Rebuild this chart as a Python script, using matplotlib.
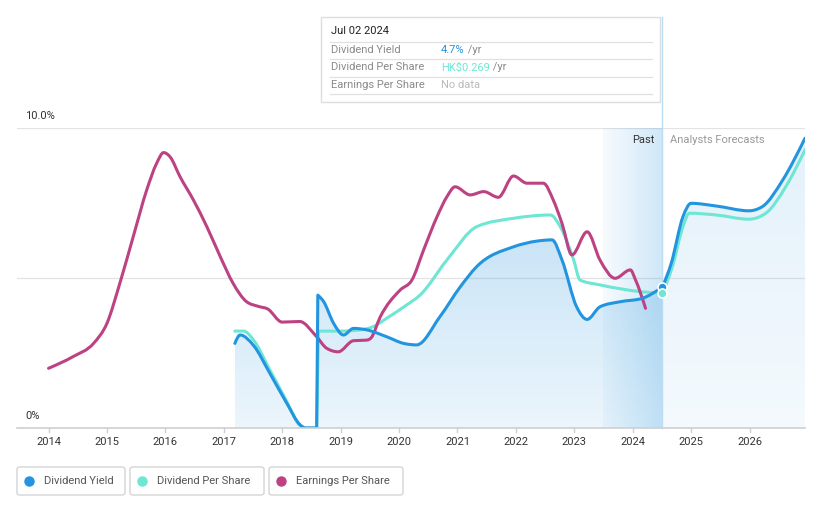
import numpy as np
import matplotlib
matplotlib.use("Agg")
import matplotlib.pyplot as plt
from matplotlib.path import Path
from matplotlib.patches import PathPatch, Rectangle, FancyBboxPatch
from matplotlib.lines import Line2D

plt.rcParams['font.family'] = ['Roboto', 'DejaVu Sans']

# ---------------- data ----------------
years = [2014, 2015, 2016, 2017, 2018, 2019, 2020, 2021, 2022, 2023, 2024, 2025, 2026]

# Dividend Yield (past, two pieces around the 2018 gap) and forecast
dy_past1_x = [2017.19, 2017.28, 2017.51, 2017.79, 2018.08, 2018.31, 2018.40, 2018.59]
dy_past1_y = [2.82, 3.10, 2.75, 1.82, 0.82, 0.10, 0.0, 0.0]
dy_past2_x = [2018.61, 2018.71, 2018.88, 2019.05, 2019.22, 2019.45, 2019.79, 2020.08,
              2020.30, 2020.70, 2021.05, 2021.33, 2021.96, 2022.36, 2022.62, 2022.79,
              2023.04, 2023.22, 2023.44, 2023.79, 2024.16, 2024.51]
dy_past2_y = [4.43, 4.21, 3.49, 3.10, 3.32, 3.27, 3.04, 2.82,
              2.77, 3.71, 4.71, 5.38, 6.04, 6.23, 6.27, 5.60,
              4.04, 3.62, 4.04, 4.21, 4.32, 4.70]
dy_fc_x = [2024.51, 2024.66, 2024.86, 2025.00, 2025.43, 2025.99, 2026.22, 2026.57, 2026.95]
dy_fc_y = [4.70, 5.49, 7.04, 7.49, 7.40, 7.24, 7.38, 8.27, 9.66]

# Dividend Per Share
dps_past1_x = [2017.19, 2017.34, 2017.51, 2017.79, 2018.08, 2018.28, 2018.40, 2018.59]
dps_past1_y = [3.23, 3.23, 2.93, 1.93, 0.88, 0.13, 0.0, 0.0]
dps_past2_x = [2018.62, 2019.00, 2019.33, 2019.56, 2019.79, 2020.13, 2020.36, 2020.82,
               2021.33, 2021.96, 2022.59, 2022.76, 2022.99, 2023.10, 2023.44, 2024.16, 2024.51]
dps_past2_y = [3.23, 3.23, 3.27, 3.38, 3.66, 4.10, 4.43, 5.60,
               6.71, 6.99, 7.10, 6.71, 5.60, 4.93, 4.77, 4.54, 4.49]
dps_fc_x = [2024.51, 2024.68, 2024.86, 2024.97, 2025.43, 2025.99, 2026.28, 2026.62, 2026.95]
dps_fc_y = [4.49, 5.38, 6.71, 7.16, 7.10, 6.96, 7.16, 8.04, 9.27]

# Earnings Per Share
eps_x = [2014.00, 2014.42, 2014.77, 2015.00, 2015.22, 2015.45, 2015.68, 2015.85, 2015.97,
         2016.08, 2016.25, 2016.48, 2016.71, 2016.94, 2017.16, 2017.39, 2017.60, 2017.75,
         2018.00, 2018.30, 2018.59, 2018.76, 2018.96, 2019.22, 2019.45, 2019.52,
         2019.68, 2020.02, 2020.22, 2020.42, 2020.65, 2020.82, 2020.96, 2021.22, 2021.45,
         2021.70, 2021.96, 2022.19, 2022.47, 2022.64, 2022.79, 2022.96, 2023.22, 2023.44,
         2023.70, 2023.96, 2024.05, 2024.22]
eps_y = [1.99, 2.38, 2.82, 3.49, 4.82, 6.38, 7.93, 8.82, 9.18,
         9.04, 8.38, 7.60, 6.71, 5.71, 4.82, 4.21, 4.05, 3.97,
         3.53, 3.55, 3.04, 2.66, 2.54, 2.91, 2.93, 3.00,
         3.71, 4.60, 4.93, 5.93, 7.04, 7.71, 8.04, 7.77, 7.88,
         7.69, 8.40, 8.16, 8.16, 7.60, 6.82, 5.77, 6.54, 5.60,
         4.99, 5.27, 4.93, 3.99]

past_start, past_end = 2023.49, 2024.51
legend_labels = ["Dividend Yield", "Dividend Per Share", "Earnings Per Share"]

BLUE = "#2394df"
TEAL = "#6ee6d4"
MAG = "#bd4283"

# ---------------- helpers ----------------
def mono_slopes(x, y):
    """Tangents like a monotone-x curve (Fritsch-Carlson / d3 style)."""
    n = len(x)
    h = np.diff(x)
    s = np.diff(y) / h
    m = np.zeros(n)
    for i in range(1, n - 1):
        s0, s1 = s[i - 1], s[i]
        p = (s0 * h[i] + s1 * h[i - 1]) / (h[i - 1] + h[i])
        m[i] = (np.sign(s0) + np.sign(s1)) * min(abs(s0), abs(s1), 0.5 * abs(p))
    if n > 2:
        m[0] = (3 * s[0] - m[1]) / 2
        m[-1] = (3 * s[-1] - m[-2]) / 2
    else:
        m[0] = m[-1] = s[0]
    return m

def seg_path(xs, ys, first=True):
    x = np.asarray(xs, float)
    y = np.asarray(ys, float)
    m = mono_slopes(x, y)
    verts = [(x[0], y[0])]
    codes = [Path.MOVETO if first else Path.LINETO]
    for i in range(len(x) - 1):
        d = (x[i + 1] - x[i]) / 3
        verts += [(x[i] + d, y[i] + m[i] * d), (x[i + 1] - d, y[i + 1] - m[i + 1] * d),
                  (x[i + 1], y[i + 1])]
        codes += [Path.CURVE4] * 3
    return verts, codes

def build(segments):
    V, C = [], []
    for k, (xs, ys) in enumerate(segments):
        v, c = seg_path(xs, ys, first=(k == 0))
        V += v
        C += c
    return V, C

W, H = 821, 508
fig = plt.figure(figsize=(W / 100, H / 100), dpi=100)
ax = fig.add_axes([17 / W, 80 / H, 788 / W, 300 / H])
ax.set_xlim(2013.46, 2026.95)
ax.set_ylim(0, 10)
ax.axis('off')

# grid lines
for gy in (5, 10):
    ax.axhline(gy, color="#e3e3e3", lw=0.9, zorder=1)
ax.axhline(0, color="#cfcfcf", lw=1.2, zorder=6, clip_on=False)

# year ticks
for yr in years:
    ax.plot([yr, yr], [0, -0.13], color="#cfcfcf", lw=1, clip_on=False, zorder=6)
    ax.text(yr, -0.47, str(yr), ha='center', va='center', fontsize=8, color="#333333")

ax.text(2013.6, 10.22, "10.0%", ha='left', va='bottom', fontsize=8, color="#333333")
ax.text(2013.6, 0.22, "0%", ha='left', va='bottom', fontsize=8, color="#333333")

# past highlight box (horizontal gradient)
grad = np.zeros((1, 100, 4))
grad[..., 0], grad[..., 1], grad[..., 2] = 0.14, 0.58, 0.87
grad[..., 3] = np.linspace(0.04, 0.22, 100)
ax.imshow(grad, extent=(past_start, past_end, 0, 10), aspect='auto', zorder=2,
          interpolation='bilinear')

# fill under dividend yield
V, C = build([(dy_past1_x, dy_past1_y), (dy_past2_x, dy_past2_y), (dy_fc_x, dy_fc_y)])
fillV = V + [(dy_fc_x[-1], 0), (dy_past1_x[0], 0), V[0]]
fillC = C + [Path.LINETO, Path.LINETO, Path.CLOSEPOLY]
fill_patch = PathPatch(Path(fillV, fillC), fc='none', ec='none')
ax.add_patch(fill_patch)

vg = np.zeros((100, 1, 4))
vg[..., 0], vg[..., 1], vg[..., 2] = 0.14, 0.58, 0.87
vg[..., 3] = np.linspace(0.26, 0.09, 100)[:, None]
im1 = ax.imshow(vg, extent=(dy_past1_x[0], past_end, 0, 7), aspect='auto', zorder=3,
                origin='upper', interpolation='bilinear')
im1.set_clip_path(fill_patch)
vg2 = vg.copy()
vg2[..., 3] = np.linspace(0.13, 0.05, 100)[:, None]
im2 = ax.imshow(vg2, extent=(past_end, dy_fc_x[-1], 0, 10), aspect='auto', zorder=3,
                origin='upper', interpolation='bilinear')
im2.set_clip_path(fill_patch)

# lines
ax.add_patch(PathPatch(Path(V, C), fc='none', ec=BLUE, lw=2.2, zorder=5,
                       capstyle='round', joinstyle='round'))
Vt, Ct = build([(dps_past1_x, dps_past1_y), (dps_past2_x, dps_past2_y), (dps_fc_x, dps_fc_y)])
ax.add_patch(PathPatch(Path(Vt, Ct), fc='none', ec=TEAL, lw=2.2, zorder=4.5,
                       capstyle='round', joinstyle='round'))
Ve, Ce = build([(eps_x, eps_y)])
ax.add_patch(PathPatch(Path(Ve, Ce), fc='none', ec=MAG, lw=2.2, zorder=4.8,
                       capstyle='round', joinstyle='round'))

# vertical cursor line
ax.plot([past_end, past_end], [0, 13.7], color="#bcdcf4", lw=1, clip_on=False, zorder=4)

# markers
ax.plot([past_end], [dy_past2_y[-1]], 'o', ms=6.5, mfc=BLUE, mec='white', mew=1.2, zorder=7)
ax.plot([past_end], [dps_past2_y[-1]], 'o', ms=6.5, mfc=TEAL, mec='white', mew=1.2, zorder=7)

# Past / forecast labels
ax.text(past_end - 0.13, 9.6, "Past", ha='right', va='center', fontsize=8, color="#333333")
ax.text(past_end + 0.13, 9.6, "Analysts Forecasts", ha='left', va='center', fontsize=8,
        color="#999999")

# ---------------- tooltip ----------------
def fx(px):
    return px / W

def fy(py):
    return 1 - py / H

fig.add_artist(Rectangle((fx(321), fy(102)), (660 - 321) / W, 85 / H,
                         transform=fig.transFigure, fc='white', ec='#dddddd', lw=1, zorder=10))
fig.text(fx(331), fy(31), "Jul 02 2024", fontsize=8, color="#222222", va='center', zorder=11)
for sy in (41.5, 58.5, 76.5, 94):
    fig.add_artist(Line2D([fx(330), fx(652)], [fy(sy), fy(sy)], transform=fig.transFigure,
                          color='#e0e0e0', lw=0.9, zorder=11))
rows = [("Dividend Yield", "4.7%", BLUE, " /yr", 50),
        ("Dividend Per Share", "HK$0.269", TEAL, " /yr", 67.5),
        ("Earnings Per Share", "No data", "#bbbbbb", "", 85)]
for lab, val, col, suf, py in rows:
    fig.text(fx(331), fy(py), lab, fontsize=8, color="#8a8a8a", va='center', zorder=11)
    t = fig.text(fx(441), fy(py), val, fontsize=8, color=col, va='center', zorder=11)
    if suf:
        fig.canvas.draw()
        bb = t.get_window_extent()
        fig.text(bb.x1 / W, fy(py), suf, fontsize=8, color="#8a8a8a", va='center', zorder=11)

# ---------------- legend ----------------
boxes = [(17, 125), (130, 264), (269, 403)]
cols = [BLUE, TEAL, MAG]
for (x0, x1), lab, col in zip(boxes, legend_labels, cols):
    fig.add_artist(FancyBboxPatch((fx(x0), fy(495)), (x1 - x0) / W, 28 / H,
                                  boxstyle="round,pad=0,rounding_size=0.004",
                                  transform=fig.transFigure, fc='white', ec='#d5d5d5', lw=1))
    fig.add_artist(Line2D([fx(x0 + 12)], [fy(481)], marker='o', ms=6.5, color=col,
                          transform=fig.transFigure))
    fig.text(fx(x0 + 27), fy(481), lab, fontsize=8, color="#555555", va='center')

fig.savefig("out.png", dpi=100)
